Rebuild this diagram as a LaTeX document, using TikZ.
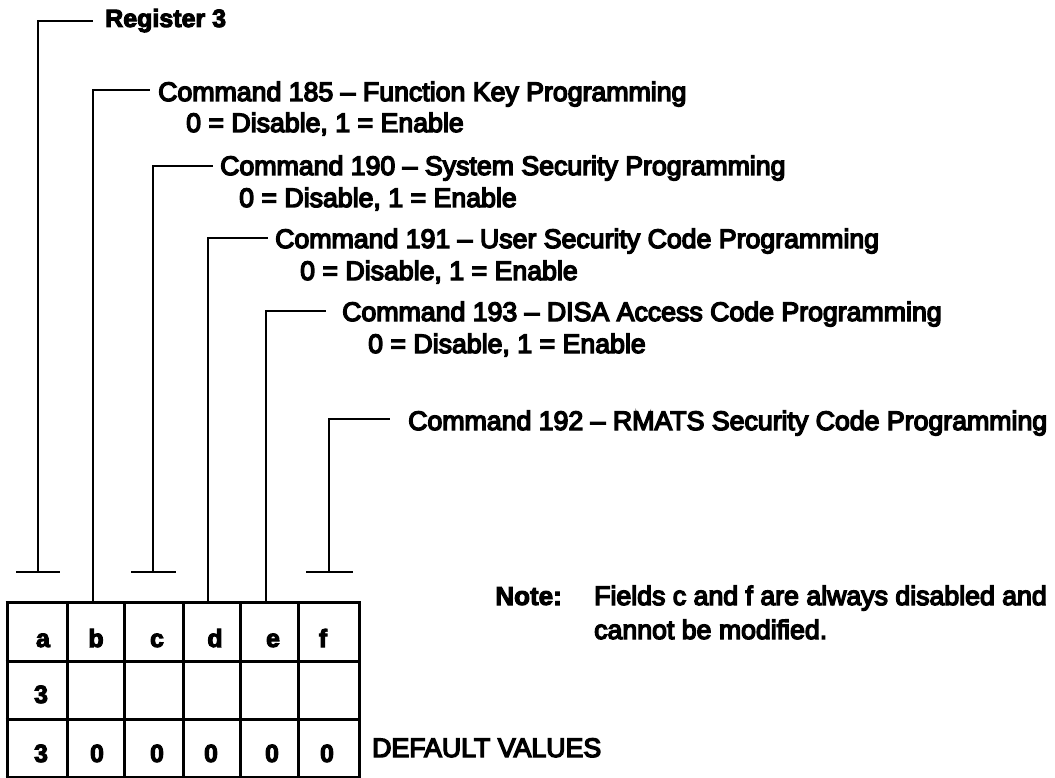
\documentclass[tikz,border=0pt]{standalone}
\usepackage{fontspec}
\setmainfont{Liberation Sans}
\newcommand{\thk}[2]{\special{pdf:literal direct 2 Tr #1 w}#2\special{pdf:literal direct 0 Tr}}
\begin{document}
\begin{tikzpicture}[x=1pt,y=-1pt,
  conn/.style={line width=2.6pt},
  grid/.style={line width=3pt},
  lbl/.style={anchor=base west, inner sep=0pt, font=\fontsize{26.7}{30}\selectfont},
  hdr/.style={anchor=base west, inner sep=0pt, font=\bfseries\fontsize{25}{28}\selectfont},
  cell/.style={anchor=base, inner sep=0pt, font=\bfseries\fontsize{25}{28}\selectfont}]
\useasboundingbox (0,0) rectangle (1055,778);

% table grid
\foreach \x in {7,67,124,183,240,298,359} \draw[grid] (\x,602) -- (\x,777);
\foreach \y in {602,661,719,777} \draw[grid] (5.5,\y) -- (360.5,\y);

% cell texts
\node[cell] (ha) at (43,647) {\thk{1}{a}};
\node[cell] (hb) at (96,647) {\thk{1}{b}};
\node[cell] (hc) at (157,647) {\thk{1}{c}};
\node[cell] (hd) at (215,647) {\thk{1}{d}};
\node[cell] (he) at (273,647) {\thk{1}{e}};
\node[cell] (hf) at (323,647) {\thk{1}{f}};
\node[cell] (ra) at (41,703) {\thk{1}{3}};
\node[cell] (da) at (41,762) {\thk{1}{3}};
\node[cell] (db) at (97,762) {\thk{1}{0}};
\node[cell] (dc) at (157,762) {\thk{1}{0}};
\node[cell] (dd) at (211,762) {\thk{1}{0}};
\node[cell] (de) at (272,762) {\thk{1}{0}};
\node[cell] (df) at (327,762) {\thk{1}{0}};

% connector points
\coordinate (ta) at (38,572);
\coordinate (tc) at (153,572);
\coordinate (tf) at (329,572);
\coordinate (pb) at (93,602);
\coordinate (pd) at (208,602);
\coordinate (pe) at (266,602);
\coordinate (ea) at (93,21);
\coordinate (eb) at (150,90);
\coordinate (ec) at (213,166);
\coordinate (ed) at (268,238);
\coordinate (ee) at (326,311);
\coordinate (ef) at (390,419);

% T bars
\draw[conn] (16,572) -- (60,572);
\draw[conn] (131,572) -- (176,572);
\draw[conn] (306,572) -- (353,572);

% connectors
\draw[conn] (ta) |- (ea);
\draw[conn] (pb) |- (eb);
\draw[conn] (tc) |- (ec);
\draw[conn] (pd) |- (ed);
\draw[conn] (pe) |- (ee);
\draw[conn] (tf) |- (ef);

% labels
\node[hdr] (reg) at (105,27) {\thk{1}{Register 3}};
\node[lbl] (c185) at (158,101) {\thk{1.4}{Command 185 – Function Key Programming}};
\node[lbl] (c185b) at (186,132) {\thk{1.4}{0 = Disable, 1 = Enable}};
\node[lbl] (c190) at (220,175) {\thk{1.4}{Command 190 – System Security Programming}};
\node[lbl] (c190b) at (239,207) {\thk{1.4}{0 = Disable, 1 = Enable}};
\node[lbl] (c191) at (275,248) {\thk{1.4}{Command 191 – User Security Code Programming}};
\node[lbl] (c191b) at (300,280) {\thk{1.4}{0 = Disable, 1 = Enable}};
\node[lbl] (c193) at (342,321) {\thk{1.4}{Command 193 – DISA Access Code Programming}};
\node[lbl] (c193b) at (368,353) {\thk{1.4}{0 = Disable, 1 = Enable}};
\node[lbl] (c192) at (408,430) {\thk{1.4}{Command 192 – RMATS Security Code Programming}};

\node[hdr, anchor=base east, font=\bfseries\fontsize{26}{30}\selectfont] (note) at (562,605) {\thk{1}{Note:}};
\node[lbl] (n1) at (594,605) {\thk{1.4}{Fields c and f are always disabled and}};
\node[lbl] (n2) at (594,639) {\thk{1.4}{cannot be modified.}};
\node[lbl] (dv) at (372,757) {\thk{1.4}{DEFAULT VALUES}};
\end{tikzpicture}
\end{document}
